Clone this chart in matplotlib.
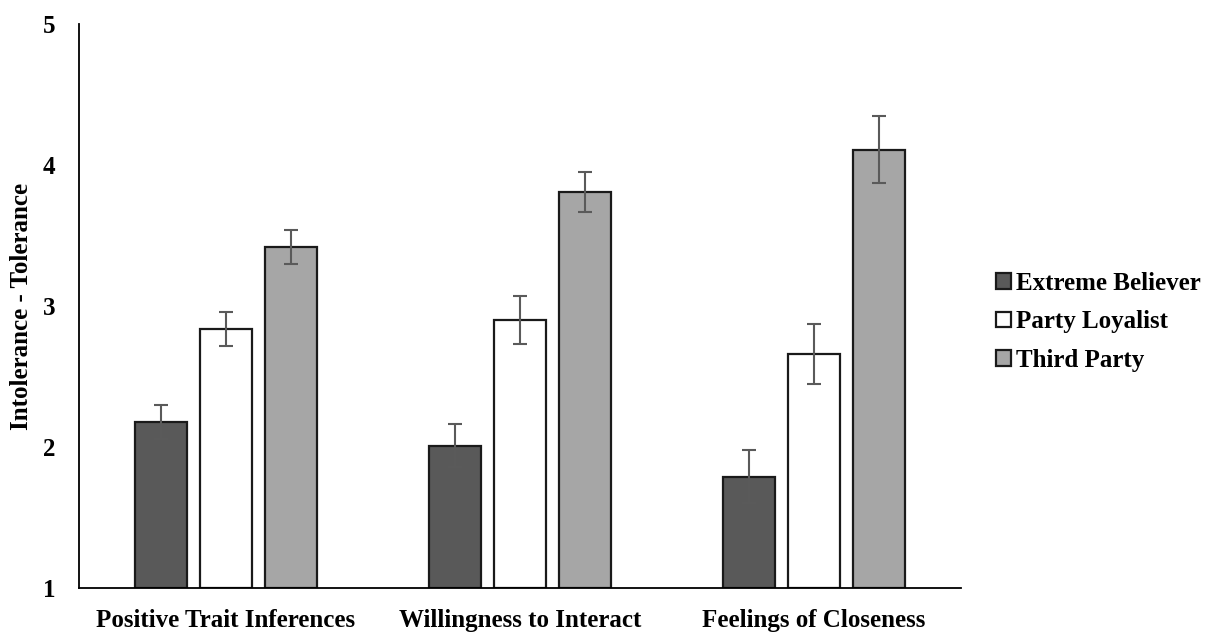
import numpy as np
import matplotlib.pyplot as plt

# --- DATOS ---
categorias = ['Positive Trait Inferences', 'Willingness to Interact', 'Feelings of Closeness']
series = ['Extreme Believer', 'Party Loyalist', 'Third Party']
extreme = [2.18, 2.01, 1.79]
extreme_err = [0.12, 0.15, 0.19]
loyalist = [2.84, 2.90, 2.66]
loyalist_err = [0.12, 0.17, 0.21]
third = [3.42, 3.81, 4.11]
third_err = [0.12, 0.14, 0.24]
yticks = [1, 2, 3, 4, 5]

colores = ['#595959', '#ffffff', '#a6a6a6']
FS = 18

plt.rcParams['font.family'] = ['Liberation Serif', 'DejaVu Serif']
plt.rcParams['font.weight'] = 'bold'

fig = plt.figure(figsize=(12.19, 6.35), dpi=100)
ax = fig.add_axes([0.0648, 0.074, 0.7232, 0.888])

x = np.arange(len(categorias))
ancho = 0.177
paso = 0.221
valores = [extreme, loyalist, third]
errores = [extreme_err, loyalist_err, third_err]

for i, (vals, errs) in enumerate(zip(valores, errores)):
    pos = x + (i - 1) * paso
    ax.bar(pos, np.array(vals) - 1, bottom=1, width=ancho, color=colores[i],
           edgecolor='#1a1a1a', linewidth=1.6, label=series[i], zorder=2)
    ax.errorbar(pos, vals, yerr=errs, fmt='none', ecolor='#5a5a5a',
                elinewidth=1.5, capsize=5, capthick=1.5, zorder=3)

ax.set_xlim(-0.5, 2.5)
ax.set_ylim(1, 5)
ax.set_yticks(yticks)
ax.set_xticks(x)
ax.set_xticklabels(categorias, fontsize=FS, fontweight='bold')
ax.tick_params(axis='both', length=0, labelsize=FS)
ax.tick_params(axis='y', pad=17)
ax.tick_params(axis='x', pad=15)
for lab in ax.get_yticklabels():
    lab.set_fontweight('bold')

ax.spines['top'].set_visible(False)
ax.spines['right'].set_visible(False)
ax.spines['left'].set_linewidth(1.3)
ax.spines['bottom'].set_linewidth(1.3)

ax.set_ylabel('Intolerance - Tolerance', fontsize=FS, fontweight='bold')
ax.yaxis.set_label_coords(-0.052, 0.5)

leg = ax.legend(loc='center left', bbox_to_anchor=(1.04, 0.472), frameon=False,
                fontsize=FS, handlelength=0.6, handleheight=0.6,
                handletextpad=0.2, labelspacing=0.62, borderaxespad=0, borderpad=0)
for t in leg.get_texts():
    t.set_fontweight('bold')

fig.savefig('out.png', dpi=100)
